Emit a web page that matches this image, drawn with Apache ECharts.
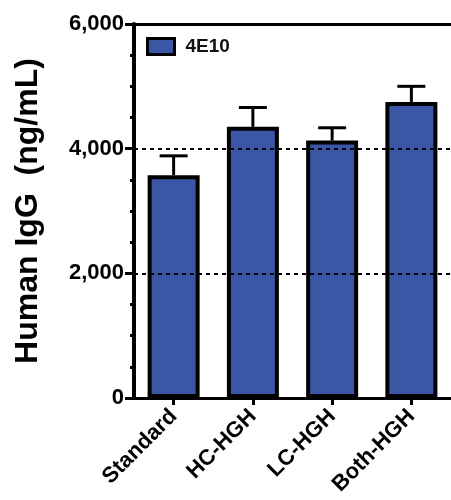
<!DOCTYPE html>
<html><head><meta charset="utf-8">
<script src="https://cdn.jsdelivr.net/npm/echarts@6/dist/echarts.min.js"></script>
<style>html,body{margin:0;padding:0;background:#fff}#c{width:451px;height:500px}</style>
</head><body><div id="c"></div>
<script>
const categories = ['Standard', 'HC-HGH', 'LC-HGH', 'Both-HGH'];
const means = [3575, 4350, 4130, 4750];
const errors = [310, 310, 205, 250];
const yTicks = [0, 2000, 4000, 6000];
const seriesName = '4E10';

const chart = echarts.init(document.getElementById('c'), null, {renderer: 'canvas'});
const font = 'Arial, "Liberation Sans", sans-serif';
const errData = categories.map((c, i) => [i, means[i], means[i] + errors[i]]);

chart.setOption({
  animation: false,
  backgroundColor: '#fff',
  grid: {left: 134, top: 24, width: 320, height: 374},
  legend: {
    show: true, left: 141, top: 32, itemWidth: 27, itemHeight: 16, itemGap: 10,
    icon: 'rect',
    data: [seriesName],
    itemStyle: {borderColor: '#000', borderWidth: 3},
    textStyle: {fontFamily: font, fontWeight: 'bold', fontSize: 19, color: '#111', padding: [0, 0, 0, 6]}
  },
  xAxis: [{
    type: 'category', data: categories, position: 'bottom',
    axisLine: {lineStyle: {color: '#000', width: 3}},
    axisTick: {show: true, alignWithLabel: true, length: 7, lineStyle: {color: '#000', width: 3}},
    axisLabel: {rotate: 45, margin: 15, fontFamily: font, fontWeight: 'bold', fontSize: 22, color: '#000', interval: 0},
    splitLine: {show: false}
  }, {
    type: 'category', data: categories, position: 'top',
    axisLine: {show: true, lineStyle: {color: '#000', width: 3}},
    axisTick: {show: false}, axisLabel: {show: false}, splitLine: {show: false}
  }],
  yAxis: {
    type: 'value', min: yTicks[0], max: yTicks[yTicks.length - 1], interval: 2000,
    name: 'Human IgG  (ng/mL)', nameLocation: 'middle', nameGap: 90,
    nameTextStyle: {fontFamily: font, fontWeight: 'bold', fontSize: 32, color: '#000'},
    axisLine: {show: true, onZero: false, lineStyle: {color: '#000', width: 4, opacity: 1}},
    axisTick: {show: true, length: 9, lineStyle: {color: '#000', width: 3}},
    minorTick: {show: true, splitNumber: 4, length: 4, lineStyle: {color: '#000', width: 3}},
    axisLabel: {margin: 10, fontFamily: font, fontWeight: 'bold', fontSize: 22, color: '#000',
      formatter: v => v.toLocaleString('en-US')},
    splitLine: {show: true, lineStyle: {color: '#000', width: 2, type: [4, 4]}},
    z: 5
  },
  series: [{
    name: seriesName, type: 'bar', data: means, barWidth: 52, z: 3,
    itemStyle: {color: '#3a56a5', borderColor: '#000', borderWidth: 4}
  }, {
    type: 'custom', data: errData, z: 2,
    renderItem: function (params, api) {
      const x = api.value(0);
      const base = api.coord([x, api.value(1)]);
      const top = api.coord([x, api.value(2)]);
      const hw = 14;
      const st = {stroke: '#000', lineWidth: 3};
      return {type: 'group', children: [
        {type: 'line', shape: {x1: top[0], y1: base[1], x2: top[0], y2: top[1]}, style: st},
        {type: 'line', shape: {x1: top[0] - hw, y1: top[1], x2: top[0] + hw, y2: top[1]}, style: st}
      ]};
    }
  }]
});
</script></body></html>
